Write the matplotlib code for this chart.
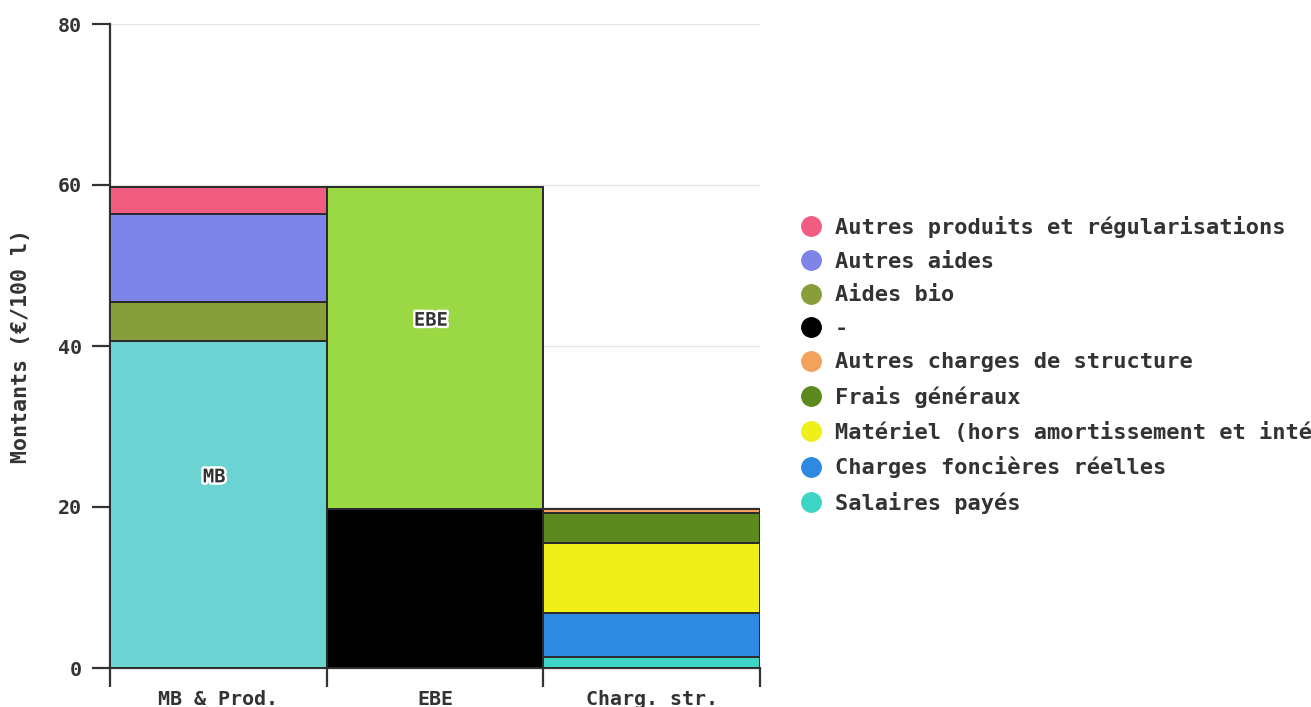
import matplotlib
matplotlib.use("Agg")
import matplotlib.pyplot as plt
from matplotlib.lines import Line2D
import matplotlib.patheffects as pe
import numpy as np

plt.rcParams['font.family'] = ['DejaVu Sans Mono', 'DejaVu Sans']
plt.rcParams['font.weight'] = 'bold'

categories = ["MB & Prod.", "EBE", "Charg. str."]

# series (bottom to top), values per category
series_names = ["MB", "Aides bio", "Autres aides", "Autres produits et régularisations",
                "-", "EBE",
                "Salaires payés", "Charges foncières réelles",
                "Matériel (hors amortissement et intérêts)", "Frais généraux",
                "Autres charges de structure"]
mb_vals = [40.59, 0, 0]
aides_bio = [4.87, 0, 0]
autres_aides = [10.9, 0, 0]
autres_produits = [3.34, 0, 0]
tiret = [0, 19.8, 0]
ebe_vals = [0, 39.9, 0]
salaires = [0, 0, 1.4]
charges_foncieres = [0, 0, 5.47]
materiel = [0, 0, 8.66]
frais_generaux = [0, 0, 3.76]
autres_charges = [0, 0, 0.51]

series_values = [mb_vals, aides_bio, autres_aides, autres_produits, tiret, ebe_vals,
                 salaires, charges_foncieres, materiel, frais_generaux, autres_charges]
colors = ["#6cd3d3", "#889e3b", "#7f84e8", "#f25c80", "#000000", "#9ad944",
          "#3dd6c6", "#2e89e0", "#efef1a", "#5c8a1e", "#f4a15b"]

segment_labels = {"MB": 0, "EBE": 1}

legend_order = ["Autres produits et régularisations", "Autres aides", "Aides bio", "-",
                "Autres charges de structure", "Frais généraux",
                "Matériel (hors amortissement et intérêts)", "Charges foncières réelles",
                "Salaires payés"]

W, H = 1311, 707
fig = plt.figure(figsize=(W / 100, H / 100), dpi=100)
ax = fig.add_axes([110 / W, (H - 668) / H, 650 / W, 644 / H])

txt_color = "#333333"
x = np.arange(len(categories))
bottoms = np.zeros(len(categories))
for name, vals, col in zip(series_names, series_values, colors):
    vals = np.array(vals, dtype=float)
    mask = vals > 0
    ax.bar(x[mask], vals[mask], bottom=bottoms[mask], width=1.0, color=col,
           edgecolor="#2a2a2a", linewidth=1.4, zorder=3)
    if name in segment_labels:
        i = segment_labels[name]
        yc = bottoms[i] + vals[i] / 2
        ax.annotate(name, (x[i], yc), xytext=(-3, 20), textcoords="offset points",
                    ha="center", va="center", fontsize=13.5, fontweight="bold",
                    color=txt_color, zorder=5,
                    path_effects=[pe.withStroke(linewidth=3.5, foreground="white")])
    bottoms = bottoms + vals

ax.set_xlim(-0.5, len(categories) - 0.5)
ax.set_ylim(0, 80)
ax.set_yticks([0, 20, 40, 60, 80])
ax.yaxis.grid(True, color="#e6e6e6", linewidth=1, zorder=0)
ax.set_axisbelow(True)

ax.set_xticks(np.arange(len(categories) + 1) - 0.5)
ax.set_xticklabels([])
ax.set_xticks(x, minor=True)
ax.set_xticklabels(categories, minor=True)
ax.tick_params(axis="x", which="major", length=13.5, width=1.6, color="#333333")
ax.tick_params(axis="x", which="minor", length=0, pad=16, labelsize=14.4, colors=txt_color)
ax.tick_params(axis="y", length=13, width=1.6, color="#333333", pad=7,
               labelsize=14.4, labelcolor=txt_color)
for lab in ax.get_xticklabels(minor=True) + ax.get_yticklabels():
    lab.set_fontweight("bold")

for s in ["top", "right"]:
    ax.spines[s].set_visible(False)
for s in ["left", "bottom"]:
    ax.spines[s].set_color("#333333")
    ax.spines[s].set_linewidth(1.6)

ax.set_ylabel("Montants (€/100 l)", fontsize=15.6, fontweight="bold", color=txt_color)
ax.yaxis.set_label_coords((31 - 110) / 650, 0.5)

color_of = dict(zip(series_names, colors))
handles = [Line2D([0], [0], marker="o", linestyle="none", markersize=14,
                  markerfacecolor=color_of[n], markeredgecolor=color_of[n]) for n in legend_order]
leg = fig.legend(handles, legend_order, loc="upper left",
                 bbox_to_anchor=(800 / W, 1 - 216 / H), frameon=False,
                 fontsize=15.8, handlelength=1.0, handletextpad=0.58,
                 borderpad=0, borderaxespad=0, labelspacing=0.62)
for t in leg.get_texts():
    t.set_color(txt_color)
    t.set_fontweight("bold")

fig.savefig("out.png", dpi=100)
